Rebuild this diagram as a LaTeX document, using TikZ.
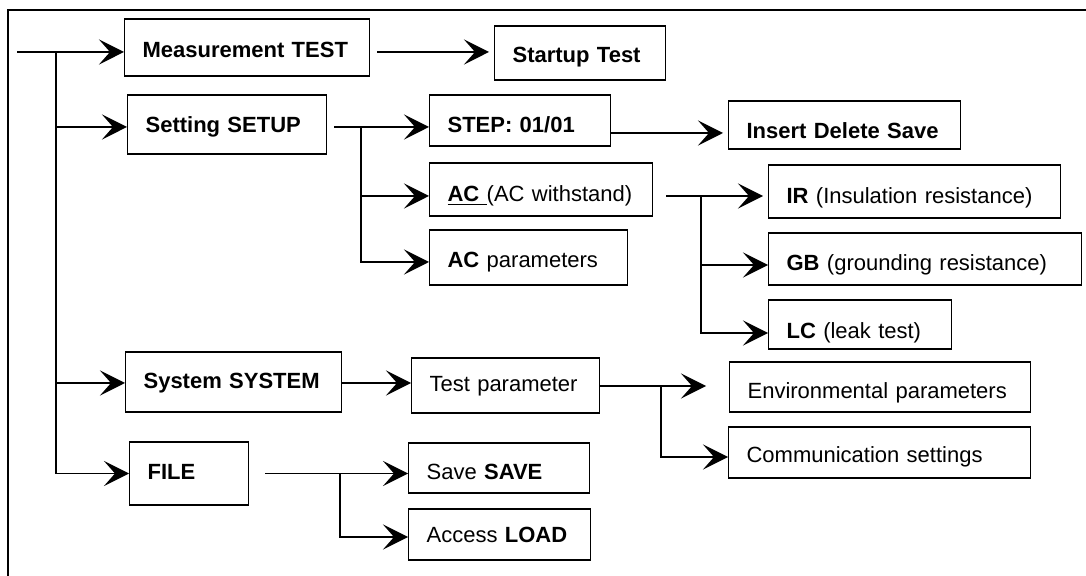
\documentclass[tikz,border=0pt]{standalone}
\usepackage{fontspec}
\setmainfont{Liberation Sans}
\usetikzlibrary{arrows.meta}

\begin{document}
\fontsize{11pt}{13pt}\selectfont
\begin{tikzpicture}[x=0.5pt, y=-0.5pt,
        menu/.style n args={3}{draw, line width=0.6pt, anchor=mid west, align=left,
            inner xsep=9pt, inner ysep=0pt, text width=#1, text height=#2, text depth=#3},
        arr/.style={line width=0.8pt, -{Stealth[length=12.5pt, width=12.5pt, inset=5.5pt]}},
        link/.style={line width=0.8pt}]
        \useasboundingbox (0,0) rectangle (1086,576);
        % frame
        \draw[line width=1pt] (1086,10) -- (8,10) -- (8,576);

        % main menu
        \node[menu={104.5pt}{19.4pt}{9.1pt}] (mt) at (124,52) {\textbf{Measurement TEST}};
        \node[menu={81.5pt}{18.9pt}{10.6pt}] (su) at (127,127) {\textbf{Setting SETUP}};
        \node[menu={90pt}{18.4pt}{11.6pt}] (sys) at (125,383) {\textbf{System SYSTEM}};
        \node[menu={41.5pt}{18.65pt}{12.85pt}] (file) at (129,473.5) {\textbf{FILE}};

        % sub menus
        \node[menu={67.5pt}{18.4pt}{8.6pt}] (st) at (494,57) {\textbf{Startup Test}};
        \node[menu={72.5pt}{18.9pt}{6.6pt}] (stp) at (429,127) {\textbf{STEP: 01/01}};
        \node[menu={98pt}{18.9pt}{5.1pt}] (ids) at (728,133) {\textbf{Insert Delete Save}};
        \node[menu={93.5pt}{19.4pt}{7.1pt}] (acw) at (429,196) {\underline{\textbf{AC\ }}(AC withstand)};
        \node[menu={81pt}{18.9pt}{8.6pt}] (acp) at (429,262) {\textbf{AC} parameters};
        \node[menu={128pt}{19.4pt}{7.1pt}] (ir) at (768,198) {\textbf{IR} (Insulation resistance)};
        \node[menu={138.5pt}{18.9pt}{7.1pt}] (gb) at (768,265) {\textbf{GB} (grounding resistance)};
        \node[menu={73.5pt}{19.4pt}{5.1pt}] (lc) at (768,333) {\textbf{LC} (leak test)};
        \node[menu={76pt}{16.9pt}{10.6pt}] (tp) at (411,386) {Test parameter};
        \node[menu={132.5pt}{18.4pt}{6.6pt}] (env) at (729,393) {Environmental parameters};
        \node[menu={133pt}{17.9pt}{7.6pt}] (com) at (728,457) {Communication settings};
        \node[menu={72.5pt}{18.4pt}{6.6pt}] (sav) at (408,474) {Save \textbf{SAVE}};
        \node[menu={73pt}{16.9pt}{8.6pt}] (lod) at (408,537) {Access \textbf{LOAD}};

        % junctions
        \coordinate (in) at (17,52);
        \coordinate (t0) at (56,52);
        \coordinate (j1) at (361,127);
        \coordinate (j2) at (701,196);
        \coordinate (j3) at (661,386);
        \coordinate (j4) at (340,473.5);

        % connectors
        \draw[arr] (in) -- (mt.mid west);
        \draw[arr] (t0) |- (su.mid west);
        \draw[arr] (t0) |- (sys.mid west);
        \draw[arr] (t0) |- (file.mid west);
        \draw[arr, shorten <=3.5pt, shorten >=2.5pt] (mt.mid east) -- (mt.mid east -| st.west);
        \draw[arr, shorten <=3.5pt] (su.mid east) -- (stp.mid west);
        \draw[arr] (j1) |- (acw.mid west);
        \draw[arr] (j1) |- (acp.mid west);
        \draw[arr, shorten >=2.5pt] (ids.mid west -| stp.east) -- (ids.mid west);
        \draw[arr, shorten <=6.5pt, shorten >=2.5pt] (acw.mid east) -- (acw.mid east -| ir.west);
        \draw[arr] (j2) |- (gb.mid west);
        \draw[arr] (j2) |- (lc.mid west);
        \draw[arr] (sys.mid east) -- (sys.mid east -| tp.west);
        \draw[arr, shorten >=11.5pt] (tp.mid east) -- (tp.mid east -| env.west);
        \draw[arr] (j3) |- (com.mid west);
        \draw[arr, shorten <=8pt] (file.mid east) -- (file.mid east -| sav.west);
        \draw[arr] (j4) |- (lod.mid west);
    \end{tikzpicture}
\end{document}
